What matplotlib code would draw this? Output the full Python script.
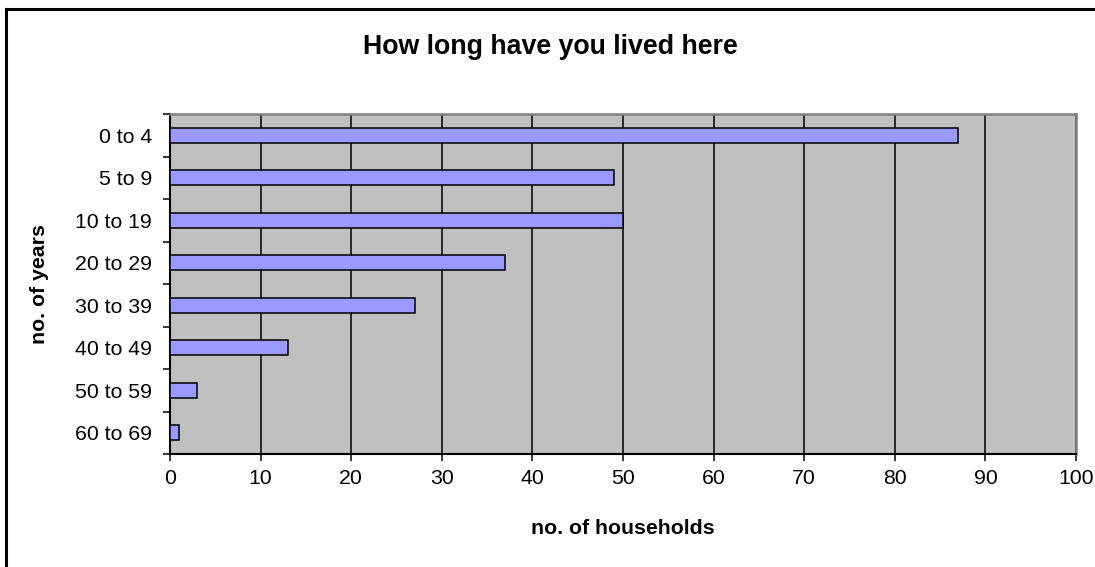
import numpy as np
import matplotlib.pyplot as plt
from matplotlib.lines import Line2D

plt.rcParams['font.family'] = ['Liberation Sans', 'DejaVu Sans']

# data
categories = ['0 to 4', '5 to 9', '10 to 19', '20 to 29',
              '30 to 39', '40 to 49', '50 to 59', '60 to 69']
households = [87, 49, 50, 37, 27, 13, 3, 1]
x_ticks = list(range(0, 101, 10))

fig = plt.figure(figsize=(10.95, 5.67), dpi=100)
ax = fig.add_axes([170 / 1095, 113 / 567, 906 / 1095, 340 / 567])

pos = np.arange(len(categories))
ax.barh(pos, households, height=0.36, color='#9999FF',
        edgecolor='black', linewidth=1.1, zorder=3)

ax.set_facecolor('#C0C0C0')
ax.set_xlim(0, 100)
ax.set_ylim(len(categories) - 0.5, -0.5)

# vertical grid lines
ax.set_xticks(x_ticks)
ax.xaxis.grid(True, color='black', linewidth=1.1, zorder=1)
ax.set_axisbelow(True)
ax.tick_params(axis='x', direction='out', length=5, width=1.1,
               labelsize=15.3, pad=6)

# y ticks sit on category boundaries, labels centred on bars
ax.set_yticks(np.arange(len(categories) + 1) - 0.5)
ax.set_yticklabels([])
ax.set_yticks(pos, minor=True)
ax.set_yticklabels(categories, minor=True)
ax.tick_params(axis='y', which='major', direction='out', length=5, width=1.1)
ax.tick_params(axis='y', which='minor', length=0, labelsize=15.3, pad=13)

for side in ['left', 'bottom']:
    ax.spines[side].set_color('black')
    ax.spines[side].set_linewidth(1.5)
for side in ['top', 'right']:
    ax.spines[side].set_color('#808080')
    ax.spines[side].set_linewidth(1.8)

ax.set_xlabel('no. of households', fontsize=15.3, fontweight='bold')
ax.xaxis.set_label_coords(0.5, -0.218)
ax.xaxis.label.set_va('center')
ax.set_ylabel('no. of years', fontsize=15.3, fontweight='bold')
ax.yaxis.set_label_coords(-0.1435, 0.5)
ax.yaxis.label.set_va('center')

fig.text(550 / 1095, 1 - 47 / 567, 'How long have you lived here',
         fontsize=19.3, fontweight='bold', ha='center', va='center')

# chart frame (top and left edges visible)
fig.add_artist(Line2D([6 / 1095, 1], [1 - 9 / 567, 1 - 9 / 567],
                      color='black', linewidth=2.2))
fig.add_artist(Line2D([6 / 1095, 6 / 1095], [0, 1 - 9 / 567],
                      color='black', linewidth=2.2))

fig.savefig('out.png', dpi=100)
